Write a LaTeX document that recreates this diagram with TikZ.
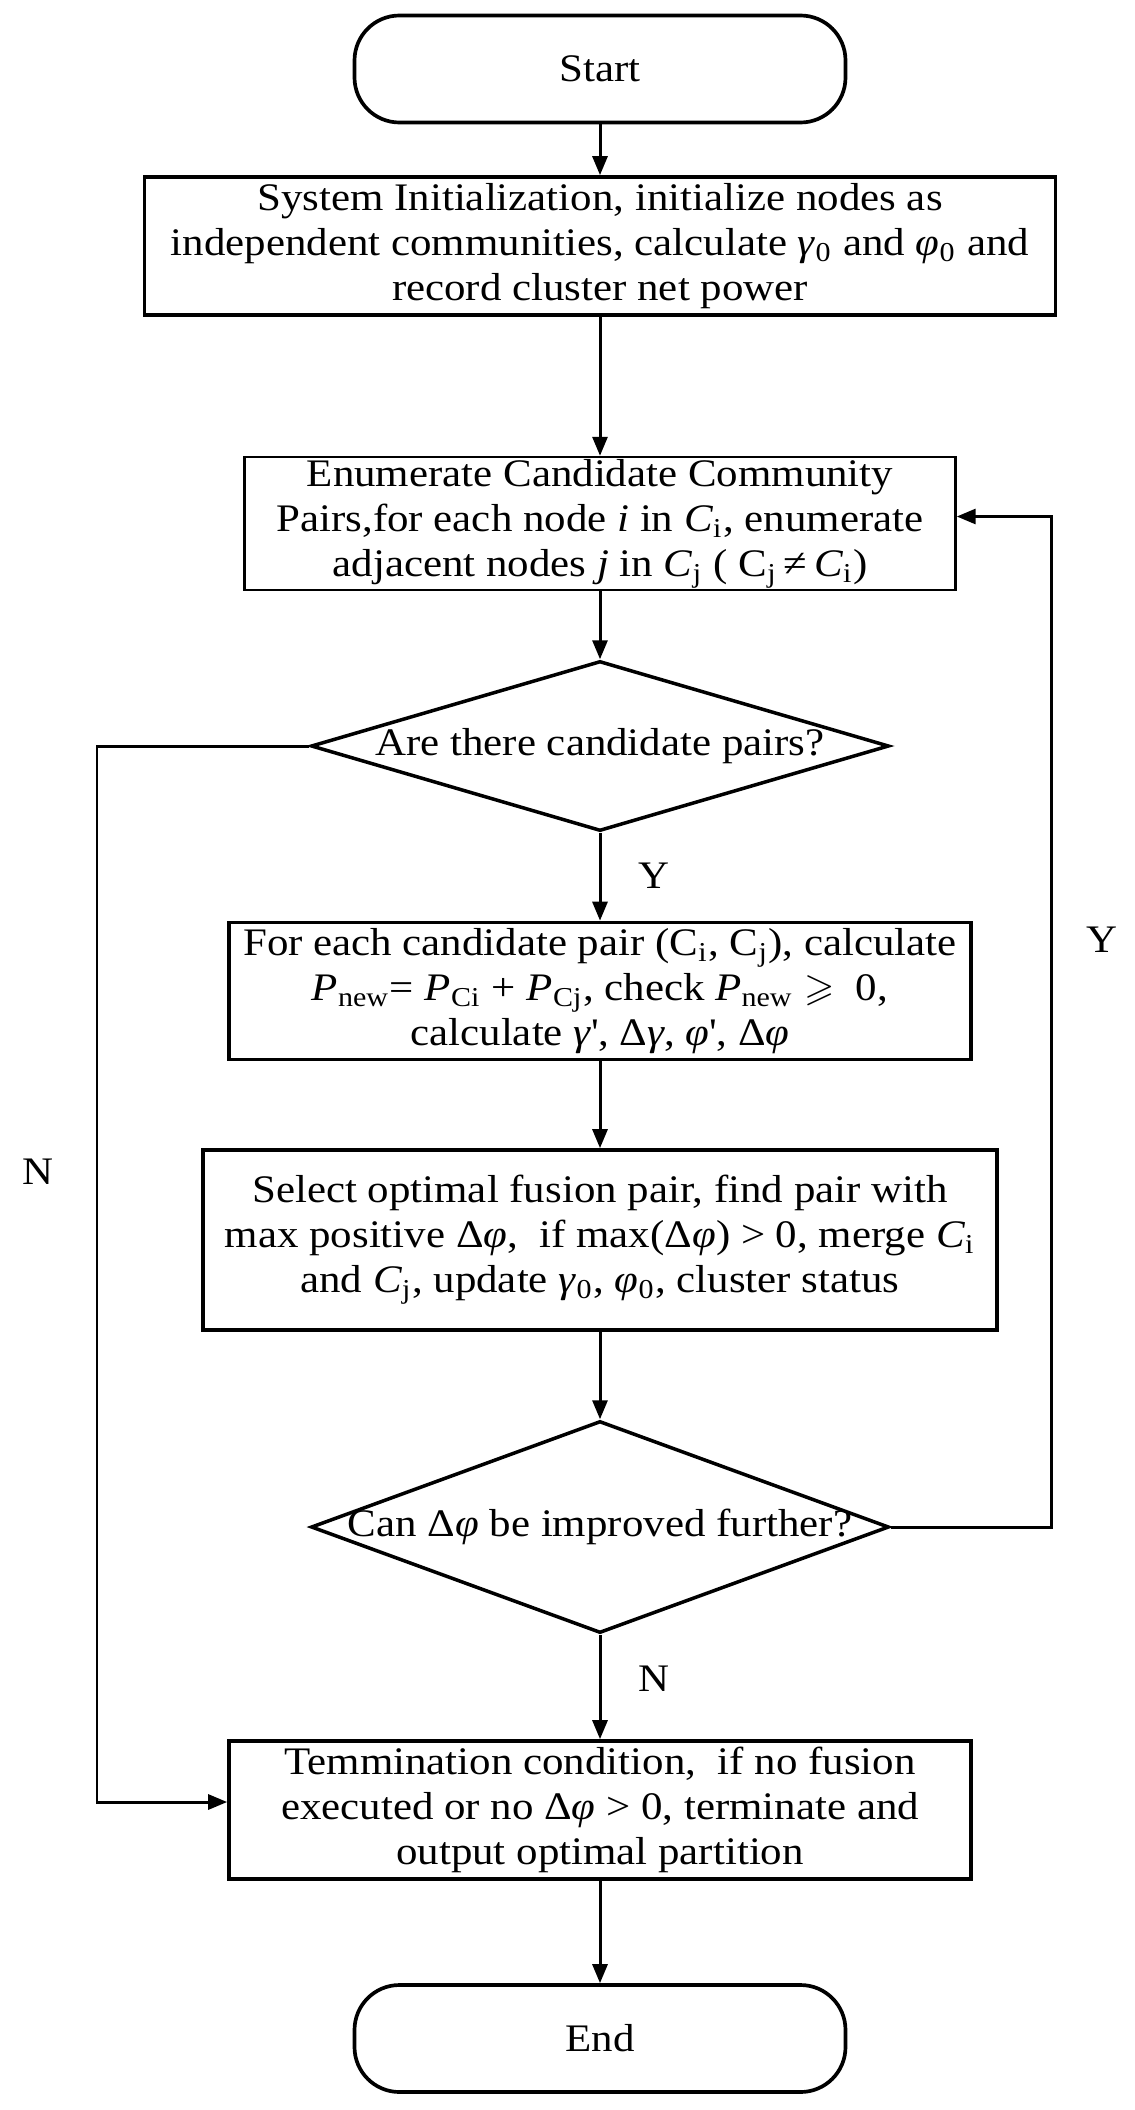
\documentclass[tikz,border=0pt]{standalone}
\usepackage{fontspec}
\usepackage{amssymb}
\setmainfont[FakeStretch=1.1]{Liberation Serif}
\usetikzlibrary{shapes.geometric,arrows.meta}

\begin{document}
\begin{tikzpicture}[x=1cm,y=-1cm,
  >={Triangle[length=1.9mm,width=1.5mm]},
  font=\fontsize{11.1pt}{12.8pt}\selectfont,
  terminal/.style={draw,line width=1.05pt,rounded corners=0.45cm,minimum width=4.91cm,minimum height=1.07cm},
  box/.style={draw,line width=1.05pt,align=center,inner sep=0pt},
  thinbox/.style={box,line width=0.7pt},
  decision/.style={draw,diamond,line width=1pt,inner sep=0pt,minimum width=5.78cm},
  line/.style={line width=0.85pt}]

\useasboundingbox (0,0) rectangle (11.35,21.10);

\node[terminal] (start) at (6,0.69) {Start};

\node[box,minimum width=9.11cm,minimum height=1.38cm] (init) at (6,2.46)
  {System Initialization, initialize nodes as\\
   independent communities, calculate \textit{γ}\textsubscript{0} and \textit{φ}\textsubscript{0} and\\
   record cluster net power};

\node[thinbox,minimum width=7.11cm,minimum height=1.33cm] (enum) at (6,5.235)
  {Enumerate Candidate Community\\
   Pairs,for each node \textit{i} in \textit{C}\textsubscript{i}, enumerate\\
   adjacent nodes \textit{j} in \textit{C}\textsubscript{j} ( C\textsubscript{j}\,≠\,\textit{C}\textsubscript{i})};

\node[decision,minimum height=1.70cm] (pairs) at (6,7.46) {\makebox[0pt]{Are there candidate pairs?}};

\node[box,minimum width=7.42cm,minimum height=1.37cm] (calc) at (6,9.91)
  {For each candidate pair (C\textsubscript{i}, C\textsubscript{j}), calculate\\
   \textit{P}\textsubscript{new}= \textit{P}\textsubscript{Ci} + \textit{P}\textsubscript{Cj}, check \textit{P}\textsubscript{new} $\geqslant$\ \ 0,\\
   calculate \textit{γ}\textquotesingle, Δ\textit{γ}, \textit{φ}\textquotesingle, Δ\textit{φ}};

\node[box,minimum width=7.94cm,minimum height=1.80cm] (select) at (6,12.40)
  {Select optimal fusion pair, find pair with\\
   max positive Δ\textit{φ},\ \ if max(Δ\textit{φ}) > 0, merge \textit{C}\textsubscript{i}\\
   and \textit{C}\textsubscript{j}, update \textit{γ}\textsubscript{0}, \textit{φ}\textsubscript{0}, cluster status};

\node[decision,minimum height=2.12cm] (improve) at (6,15.27) {\makebox[0pt]{Can Δ\textit{φ} be improved further?}};

\node[box,minimum width=7.42cm,minimum height=1.38cm] (term) at (6,18.10)
  {Temmination condition,\ \ if no fusion\\
   executed or no Δ\textit{φ} > 0, terminate and\\
   output optimal partition};

\node[terminal] (finish) at (6,20.385) {End};

% main flow
\draw[line,->] (start) -- (init);
\draw[line,->] (init) -- (enum);
\draw[line,->] (enum) -- (pairs);
\draw[line,->] (pairs) -- (calc);
\draw[line,->] (calc) -- (select);
\draw[line,->] (select) -- (improve);
\draw[line,->] (improve) -- (term);
\draw[line,->] (term) -- (finish);

% side loops
\coordinate (lft) at (0.97,7.46);
\coordinate (rgt) at (10.51,15.27);
\draw[line,->] (pairs.west) -- (lft) |- ([yshift=0.08cm]term.west);
\draw[line,->] (improve.east) -- (rgt) |- ([yshift=0.07cm]enum.east);

\node (yes1) at (6.54,8.76) {Y};
\node (no1) at (0.38,11.72) {N};
\node (yes2) at (11.02,9.40) {Y};
\node (no2) at (6.54,16.79) {N};
\end{tikzpicture}
\end{document}
